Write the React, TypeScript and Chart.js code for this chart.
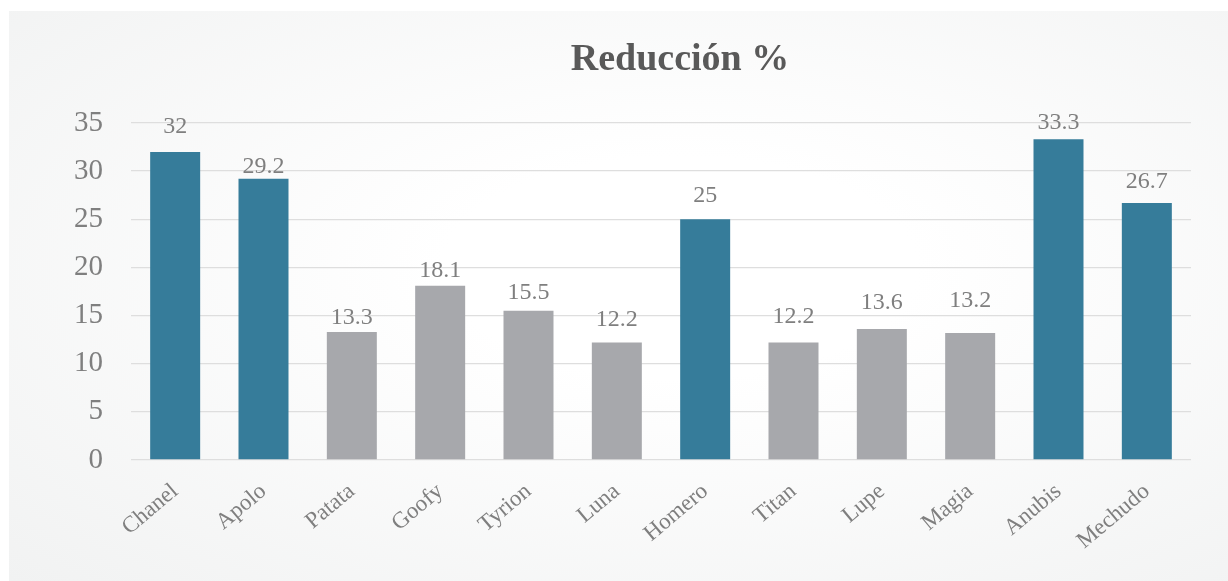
import React, { useEffect, useRef } from "react";
import { Chart, registerables } from "chart.js";

Chart.register(...registerables);

const chartTitle = "Reducción %";
const categories = ["Chanel", "Apolo", "Patata", "Goofy", "Tyrion", "Luna", "Homero", "Titan", "Lupe", "Magia", "Anubis", "Mechudo"];
const values = [32, 29.2, 13.3, 18.1, 15.5, 12.2, 25, 12.2, 13.6, 13.2, 33.3, 26.7];
const highlighted = [true, true, false, false, false, false, true, false, false, false, true, true];
const yTicks = [0, 5, 10, 15, 20, 25, 30, 35];

// styling
const TEAL = "#367C9A";
const GREY = "#A7A8AC";
const TEXT = "#7F7F7F";
const FONT = "'Liberation Serif', 'Times New Roman', serif";
const labelGap = [19, 6, 8, 9, 12, 17, 17, 20, 20, 26, 10, 15];

const titlePlugin = {
  id: "customTitle",
  afterDraw(chart: any) {
    const ctx = chart.ctx;
    ctx.save();
    ctx.font = `bold 38px ${FONT}`;
    ctx.fillStyle = "#595959";
    ctx.textAlign = "center";
    ctx.textBaseline = "alphabetic";
    ctx.fillText(chartTitle, 671, 59);
    ctx.restore();
  },
};

const dataLabelPlugin = {
  id: "dataLabels",
  afterDatasetsDraw(chart: any) {
    const ctx = chart.ctx;
    const meta = chart.getDatasetMeta(0);
    ctx.save();
    ctx.font = `24px ${FONT}`;
    ctx.fillStyle = TEXT;
    ctx.textAlign = "center";
    ctx.textBaseline = "alphabetic";
    meta.data.forEach((bar: any, i: number) => {
      ctx.fillText(String(values[i]), bar.x, bar.y - labelGap[i]);
    });
    ctx.restore();
  },
};

export default function App() {
  const canvasRef = useRef<HTMLCanvasElement | null>(null);

  useEffect(() => {
    if (!canvasRef.current) return;
    const chart = new Chart(canvasRef.current, {
      type: "bar",
      data: {
        labels: categories,
        datasets: [
          {
            data: values,
            backgroundColor: highlighted.map((h) => (h ? TEAL : GREY)),
            barPercentage: 0.566,
            categoryPercentage: 1,
          },
        ],
      },
      options: {
        animation: false,
        responsive: false,
        maintainAspectRatio: false,
        layout: { padding: { top: 112, right: 37, bottom: 0, left: 0 } },
        plugins: {
          legend: { display: false },
          title: { display: false },
          tooltip: { enabled: false },
        },
        scales: {
          x: {
            grid: { display: false },
            border: { display: false },
            ticks: {
              color: TEXT,
              font: { family: FONT, size: 23 },
              minRotation: 40,
              maxRotation: 40,
              padding: 10,
              autoSkip: false,
            },
            afterFit: (scale: any) => {
              scale.height = 121;
            },
          },
          y: {
            min: 0,
            max: 35,
            afterBuildTicks: (scale: any) => {
              scale.ticks = yTicks.map((v) => ({ value: v }));
            },
            grid: { color: "#DEDEDE", lineWidth: 1.3, drawTicks: false },
            border: { display: false },
            ticks: {
              color: TEXT,
              font: { family: FONT, size: 29 },
              padding: 28,
            },
            afterFit: (scale: any) => {
              scale.width = 122;
            },
          },
        },
      },
      plugins: [titlePlugin, dataLabelPlugin],
    });
    return () => chart.destroy();
  }, []);

  return (
    <div
      style={{
        position: "fixed",
        left: 9,
        top: 11,
        width: 1219,
        height: 570,
        background: "radial-gradient(ellipse at 55% 45%, #ffffff 25%, #f1f2f2 100%)",
      }}
    >
      <canvas ref={canvasRef} width={1219} height={570} style={{ display: "block" }} />
    </div>
  );
}
